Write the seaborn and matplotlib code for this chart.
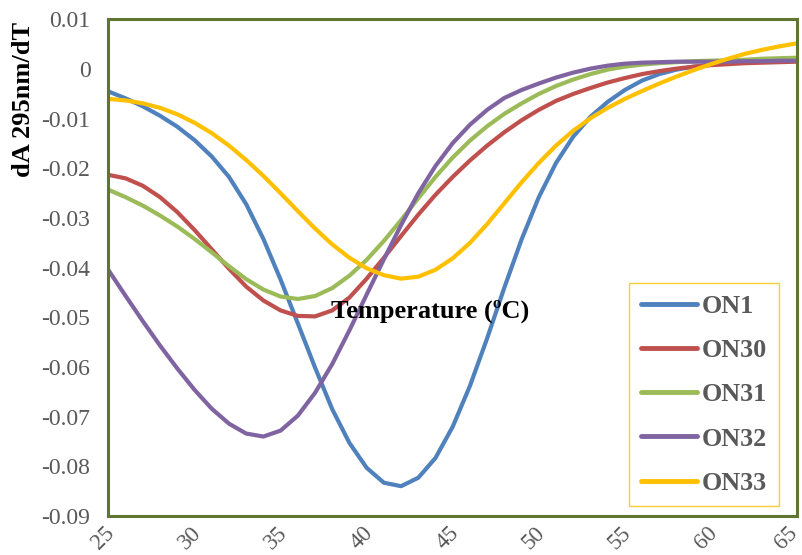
import matplotlib
matplotlib.use("Agg")
import matplotlib.pyplot as plt
import matplotlib.transforms as mtransforms
import seaborn as sns
import pandas as pd

# Temperature grid (°C)
temperature = list(range(25, 66))

on1 = [-0.0045, -0.0059, -0.0075, -0.0094, -0.0116, -0.0143, -0.0176, -0.0217, -0.0272, -0.0342,
       -0.0424, -0.0512, -0.0601, -0.0685, -0.0753, -0.0803, -0.0833, -0.0840, -0.0823, -0.0783,
       -0.0720, -0.0638, -0.0542, -0.0440, -0.0343, -0.0258, -0.0189, -0.0136, -0.0096, -0.0066,
       -0.0042, -0.0023, -0.0010, -0.0001, 0.0005, 0.0009, 0.0012, 0.0014, 0.0015, 0.0016, 0.0017]
on30 = [-0.0213, -0.0220, -0.0235, -0.0258, -0.0288, -0.0324, -0.0363, -0.0402, -0.0438, -0.0466,
        -0.0486, -0.0497, -0.0498, -0.0486, -0.0460, -0.0422, -0.0380, -0.0336, -0.0293, -0.0253,
        -0.0217, -0.0184, -0.0154, -0.0127, -0.0103, -0.0082, -0.0064, -0.0050, -0.0038, -0.0027,
        -0.0018, -0.0010, -0.0004, 0.0001, 0.0005, 0.0008, 0.0010, 0.0012, 0.0013, 0.0014, 0.0015]
on31 = [-0.0243, -0.0258, -0.0275, -0.0295, -0.0317, -0.0342, -0.0369, -0.0397, -0.0423, -0.0444,
        -0.0458, -0.0463, -0.0457, -0.0441, -0.0416, -0.0384, -0.0346, -0.0304, -0.0260, -0.0217,
        -0.0178, -0.0144, -0.0115, -0.0090, -0.0069, -0.0050, -0.0034, -0.0021, -0.0010, -0.0001,
        0.0005, 0.0009, 0.0012, 0.0014, 0.0016, 0.0017, 0.0018, 0.0019, 0.0021, 0.0022, 0.0023]
on32 = [-0.0405, -0.0457, -0.0508, -0.0557, -0.0603, -0.0646, -0.0684, -0.0714, -0.0734, -0.0740,
        -0.0728, -0.0698, -0.0652, -0.0594, -0.0526, -0.0454, -0.0383, -0.0314, -0.0250, -0.0195,
        -0.0149, -0.0112, -0.0082, -0.0058, -0.0042, -0.0029, -0.0017, -0.0007, 0.0001, 0.0007,
        0.0011, 0.0013, 0.0014, 0.0015, 0.0015, 0.0015, 0.0015, 0.0016, 0.0016, 0.0017, 0.0017]
on33 = [-0.0060, -0.0063, -0.0069, -0.0078, -0.0091, -0.0108, -0.0129, -0.0154, -0.0183, -0.0215,
        -0.0250, -0.0286, -0.0321, -0.0353, -0.0380, -0.0401, -0.0415, -0.0422, -0.0418, -0.0404,
        -0.0381, -0.0350, -0.0312, -0.0270, -0.0228, -0.0189, -0.0154, -0.0124, -0.0099, -0.0078,
        -0.0060, -0.0044, -0.0029, -0.0015, -0.0002, 0.0010, 0.0021, 0.0031, 0.0039, 0.0046, 0.0052]

series_names = ["ON1", "ON30", "ON31", "ON32", "ON33"]
series_values = [on1, on30, on31, on32, on33]
colors = ["#4F81BD", "#C0504D", "#9BBB59", "#8064A2", "#FFC000"]

x_ticks = [25, 30, 35, 40, 45, 50, 55, 60, 65]
y_ticks = [-0.09, -0.08, -0.07, -0.06, -0.05, -0.04, -0.03, -0.02, -0.01, 0, 0.01]
y_tick_labels = ["-0.09", "-0.08", "-0.07", "-0.06", "-0.05", "-0.04", "-0.03",
                 "-0.02", "-0.01", "0", "0.01"]

frames = [pd.DataFrame({"Temperature": temperature, "value": vals, "series": name})
          for name, vals in zip(series_names, series_values)]
df = pd.concat(frames, ignore_index=True)

sns.set_style("white")
plt.rcParams["font.family"] = ["Liberation Serif", "DejaVu Serif"]
plt.rcParams["axes.unicode_minus"] = False

fig = plt.figure(figsize=(8.03, 5.55), dpi=100)
ax = fig.add_axes([0.1351, 0.0703, 0.8574, 0.8946])

sns.lineplot(data=df, x="Temperature", y="value", hue="series",
             hue_order=series_names, palette=colors, linewidth=3.0,
             ax=ax, legend=True)
for line in ax.get_lines():
    line.set_solid_joinstyle("round")
    line.set_solid_capstyle("round")

ax.set_xlim(25, 65)
ax.set_ylim(-0.09, 0.01)
ax.set_xticks(x_ticks)
ax.set_xticklabels([str(t) for t in x_ticks], rotation=45, ha="center",
                   fontsize=16.5, color="#595959")
ax.set_yticks(y_ticks)
ax.set_yticklabels(y_tick_labels, fontsize=17, color="#595959")
ax.tick_params(axis="x", length=0, pad=5)
ax.tick_params(axis="y", length=0, pad=13)
ax.set_xlabel("")
ax.set_ylabel("")

# nudge the rotated temperature labels slightly to the left,
# the last one a little more so it stays inside the figure
xlabels = ax.get_xticklabels()
for i, lbl in enumerate(xlabels):
    dx = -0.11 if i == len(xlabels) - 1 else -0.05
    shift = mtransforms.ScaledTranslation(dx, 0, fig.dpi_scale_trans)
    lbl.set_transform(lbl.get_transform() + shift)

for side in ["left", "right", "top", "bottom"]:
    ax.spines[side].set_visible(True)
    ax.spines[side].set_color("#5F7530")
    ax.spines[side].set_linewidth(2.2)

# Axis titles
ax.text(430 / 803, 1 - 311 / 555, "Temperature (ºC)", transform=fig.transFigure,
        fontsize=19, fontweight="bold", color="black", ha="center", va="center")
fig.text(24 / 803, 1 - 99 / 555, "dA 295nm/dT", rotation=90, fontsize=19,
         fontweight="bold", color="black", ha="center", va="center")

handles, labels = ax.get_legend_handles_labels()
leg = ax.legend(handles, labels, loc="upper left",
                bbox_to_anchor=(629 / 803, 1 - 283 / 555), bbox_transform=fig.transFigure,
                frameon=True, fancybox=False, edgecolor="#FFC000",
                prop={"size": 18.8, "weight": "bold"}, labelcolor="#595959",
                handlelength=2.15, handletextpad=0.2, labelspacing=0.8,
                borderpad=0.45, borderaxespad=0)
leg.get_frame().set_linewidth(1.0)
for line in leg.get_lines():
    line.set_linewidth(3.5)
    line.set_solid_capstyle("round")

fig.savefig("out.png", dpi=100, facecolor="white")
